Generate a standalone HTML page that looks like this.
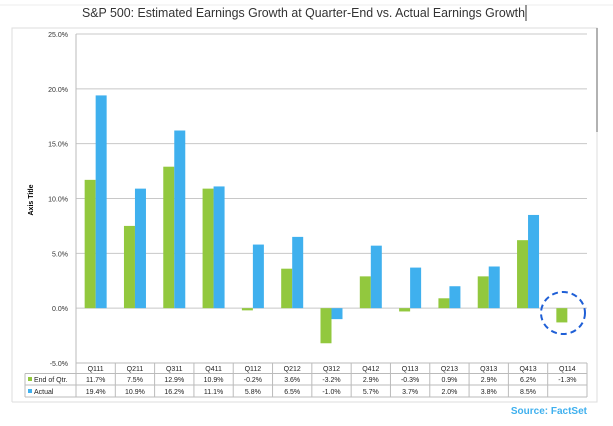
<!DOCTYPE html>
<html><head><meta charset="utf-8"><style>
body{margin:0;background:#fff;width:613px;height:421px;overflow:hidden;font-family:"Liberation Sans",sans-serif}
</style></head><body>
<svg width="613" height="421">
<line x1="0" y1="5" x2="613" y2="5" stroke="#eee"/>
<text x="82" y="17" font-size="13" textLength="443" lengthAdjust="spacingAndGlyphs" fill="#333">S&amp;P 500: Estimated Earnings Growth at Quarter-End vs. Actual Earnings Growth</text>
<line x1="526" y1="5" x2="526" y2="21" stroke="#333"/>
<path d="M12,402 V28 H597 V402 H12" fill="none" stroke="#ddd"/>
<line x1="597" y1="28" x2="597" y2="132" stroke="#999" stroke-width="1.5"/>
<text x="33" y="200" font-size="7" font-weight="bold" text-anchor="middle" transform="rotate(-90 33 200)">Axis Title</text>
<g id="grid"></g><g id="bars"></g><g id="table"></g>
<ellipse cx="563" cy="313" rx="22" ry="21" fill="none" stroke="#1f5fd6" stroke-width="2" stroke-dasharray="6,4"/>
<text x="587" y="414" font-size="10" font-weight="bold" fill="#3fb0ee" text-anchor="end">Source: FactSet</text>
</svg>
<script>
const categories=["Q111","Q211","Q311","Q411","Q112","Q212","Q312","Q412","Q113","Q213","Q313","Q413","Q114"];
const endOfQtr=[11.7,7.5,12.9,10.9,-0.2,3.6,-3.2,2.9,-0.3,0.9,2.9,6.2,-1.3];
const actual=[19.4,10.9,16.2,11.1,5.8,6.5,-1.0,5.7,3.7,2.0,3.8,8.5,null];
const ticks=[25,20,15,10,5,0,-5];
const NS="http://www.w3.org/2000/svg";
const L=76,R=587,T=34,B=363,yMin=-5,yMax=25;
const y=v=>B-(v-yMin)/(yMax-yMin)*(B-T);
const cw=(R-L)/categories.length;
const xc=i=>L+cw*(i+0.5);
function mk(tag,attrs,parent,txt){const e=document.createElementNS(NS,tag);for(const k in attrs)e.setAttribute(k,attrs[k]);if(txt!=null)e.textContent=txt;parent.appendChild(e);return e;}
const grid=document.getElementById('grid'),bars=document.getElementById('bars'),table=document.getElementById('table');
ticks.forEach(t=>{
 const l=mk('line',{x1:L,x2:R,y1:y(t),y2:y(t),stroke:'#c8c8c8'},grid);
 
 
 const tx=mk('text',{x:L-8,y:y(t)+3,'font-size':7,'text-anchor':'end',fill:'#333'},grid,t.toFixed(1)+'%');
 
 
});
const ax=mk('line',{x1:L,x2:L,y1:T,y2:B,stroke:'#bbb'},grid);


const bw=11;
categories.forEach((c,i)=>{
 const v=endOfQtr[i];
 const g=mk('rect',{x:xc(i)-bw,y:Math.min(y(v),y(0)),width:bw,height:Math.abs(y(v)-y(0)),fill:'#92c83e'},bars);
 
 
 const a=actual[i];
 if(a!=null){
  const b=mk('rect',{x:xc(i),y:Math.min(y(a),y(0)),width:bw,height:Math.abs(y(a)-y(0)),fill:'#3fb0ee'},bars);
  
  
 }
});
const rows=[B,B+10.5,B+22,B+34];
const tl=25;
[[L,R,rows[0]],[tl,R,rows[1]],[tl,R,rows[2]],[tl,R,rows[3]]].forEach(([a,b,yy])=>{
 const l=mk('line',{x1:a,x2:b,y1:yy,y2:yy,stroke:'#bbb'},table);
 
 
});
const lv=mk('line',{x1:tl,x2:tl,y1:rows[1],y2:rows[3],stroke:'#bbb'},table);


for(let i=0;i<=categories.length;i++){
 const l=mk('line',{x1:L+cw*i,x2:L+cw*i,y1:rows[0],y2:rows[3],stroke:'#bbb'},table);
 
 
}
categories.forEach((c,i)=>{
 const t=mk('text',{x:xc(i),y:rows[0]+8,'font-size':7,'text-anchor':'middle',fill:'#222'},table,c);
 
 
 const e=mk('text',{x:xc(i),y:rows[1]+8.5,'font-size':7,'text-anchor':'middle',fill:'#222'},table,endOfQtr[i].toFixed(1)+'%');
 
 
 if(actual[i]!=null){
  const a=mk('text',{x:xc(i),y:rows[2]+9,'font-size':7,'text-anchor':'middle',fill:'#222'},table,actual[i].toFixed(1)+'%');
  
  
 }
});
const k1=mk('rect',{x:28,y:rows[1]+3.5,width:4,height:4,fill:'#92c83e'},table);


const t1=mk('text',{x:34,y:rows[1]+8.5,'font-size':7,fill:'#222'},table,'End of Qtr.');


const k2=mk('rect',{x:28,y:rows[2]+4,width:4,height:4,fill:'#3fb0ee'},table);


const t2=mk('text',{x:34,y:rows[2]+9,'font-size':7,fill:'#222'},table,'Actual');


</script>
</body></html>
